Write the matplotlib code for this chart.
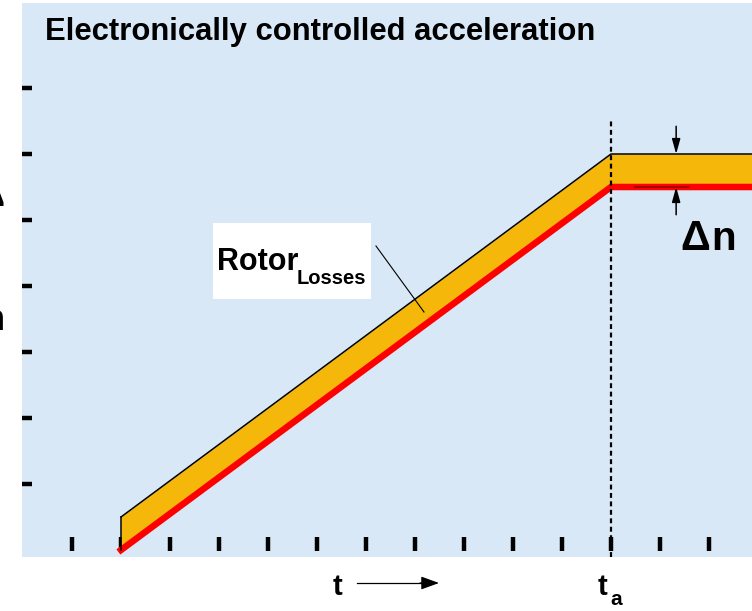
import matplotlib
matplotlib.use("Agg")
import matplotlib.pyplot as plt
from matplotlib import font_manager
from matplotlib.patches import Rectangle

# ---- data ----
time = [1, 11, 14.5]            # t (tick units)
speed_upper = [0.5, 6.0, 6.0]   # upper edge of band
speed_lower = [0.0, 5.5, 5.5]   # actual speed (red)
t_a = 11
x_ticks = list(range(0, 14))
y_ticks = [1, 2, 3, 4, 5, 6, 7]
title = "Electronically controlled acceleration"

W, H = 752, 611
names = {f.name for f in font_manager.fontManager.ttflist}
FAM = 'Liberation Sans Narrow' if 'Liberation Sans Narrow' in names else 'Liberation Sans'
plt.rcParams['font.family'] = [FAM, 'DejaVu Sans']

fig = plt.figure(figsize=(W / 100, H / 100), dpi=100)
fig.patch.set_facecolor('white')

def fx(x):
    return x / W

def fy(y):
    return 1 - y / H

ax = fig.add_axes([fx(22), fy(557), 730 / W, 554 / H])
ax.set_facecolor('#d9e8f6')
ax.set_xlim(-1.0204, 13.878)
ax.set_ylim(-0.106, 8.288)
for s in ax.spines.values():
    s.set_visible(False)
ax.spines['bottom'].set_position(('data', 0.0985))

ax.set_xticks(x_ticks)
ax.set_yticks(y_ticks)
ax.tick_params(axis='x', direction='inout', length=9.4, width=3.2, color='black',
               labelbottom=False)
ax.tick_params(axis='y', direction='in', length=7.2, width=3.2, color='black',
               labelleft=False)

# band
ax.fill_between(time, speed_lower, speed_upper, color='#f5b70a', lw=0, zorder=2)
ax.plot(time, speed_lower, color='#ff0000', lw=4.7, solid_capstyle='projecting', zorder=3)
ax.plot(time, speed_upper, color='black', lw=1.1, zorder=4)
ax.plot([time[0], time[0]], [speed_lower[0], speed_upper[0]], color='black', lw=1.1, zorder=4)

# dashed t_a line
ax.plot([t_a, t_a], [-0.106, 6.55], color='black', lw=1.6, linestyle=(0, (2.2, 1.6)), zorder=5)

# delta n markers
xa = 12.33
ax.annotate('', xy=(xa, speed_upper[1]), xytext=(xa, 6.42),
            arrowprops=dict(arrowstyle='-|>,head_length=0.9,head_width=0.25', lw=1.1,
                            color='black', shrinkA=0, shrinkB=0), zorder=6)
ax.annotate('', xy=(xa, speed_lower[1]), xytext=(xa, 5.08),
            arrowprops=dict(arrowstyle='-|>,head_length=0.9,head_width=0.25', lw=1.1,
                            color='black', shrinkA=0, shrinkB=0), zorder=6)
ax.plot([11.49, 12.59], [speed_lower[1], speed_lower[1]], color='#9a0000', lw=1.2, zorder=6)

# title
fig.text(fx(45), fy(40), title, fontsize=22.3, fontweight='bold', va='baseline', ha='left')

# Rotor losses label
fig.patches.append(Rectangle((fx(213), fy(299)), (371 - 213) / W, (299 - 223) / H,
                             transform=fig.transFigure, facecolor='white', edgecolor='none',
                             zorder=5))
fig.text(fx(217), fy(270), 'Rotor', fontsize=22, fontweight='bold', va='baseline', ha='left', zorder=6)
fig.text(fx(297), fy(284), 'Losses', fontsize=14.5, fontweight='bold', va='baseline', ha='left', zorder=6)
fig.add_artist(plt.Line2D([fx(376), fx(424)], [fy(246), fy(312)], transform=fig.transFigure,
                          color='black', lw=0.8, zorder=6))

# delta n text
fig.text(fx(680), fy(250), 'Δ', fontsize=30, fontweight='bold', va='baseline', ha='left')
fig.text(fx(711), fy(250), 'n', fontsize=29, fontweight='bold', va='baseline', ha='left')

# axis labels
fig.text(fx(333), fy(595), 't', fontsize=21, fontweight='bold', va='baseline', ha='left')
fig.add_artist(plt.Line2D([fx(357), fx(424)], [fy(583), fy(583)], transform=fig.transFigure,
                          color='black', lw=0.9))
ax.annotate('', xy=(fx(439), fy(583)), xytext=(fx(420), fy(583)), xycoords='figure fraction',
            textcoords='figure fraction',
            arrowprops=dict(arrowstyle='-|>,head_length=1.1,head_width=0.4', lw=0.9,
                            color='black', shrinkA=0, shrinkB=0))
fig.text(fx(598), fy(595), 't', fontsize=21, fontweight='bold', va='baseline', ha='left')
fig.text(fx(610), fy(605), 'a', fontsize=15, fontweight='bold', va='baseline', ha='left')

# clipped left labels (partly outside the picture, as in the reference)
fig.text(fx(5), fy(206), 'Δ', fontsize=26, fontweight='bold', va='baseline', ha='right')
fig.text(fx(5), fy(330), 'n', fontsize=26, fontweight='bold', va='baseline', ha='right')

fig.savefig('out.png', dpi=100)
